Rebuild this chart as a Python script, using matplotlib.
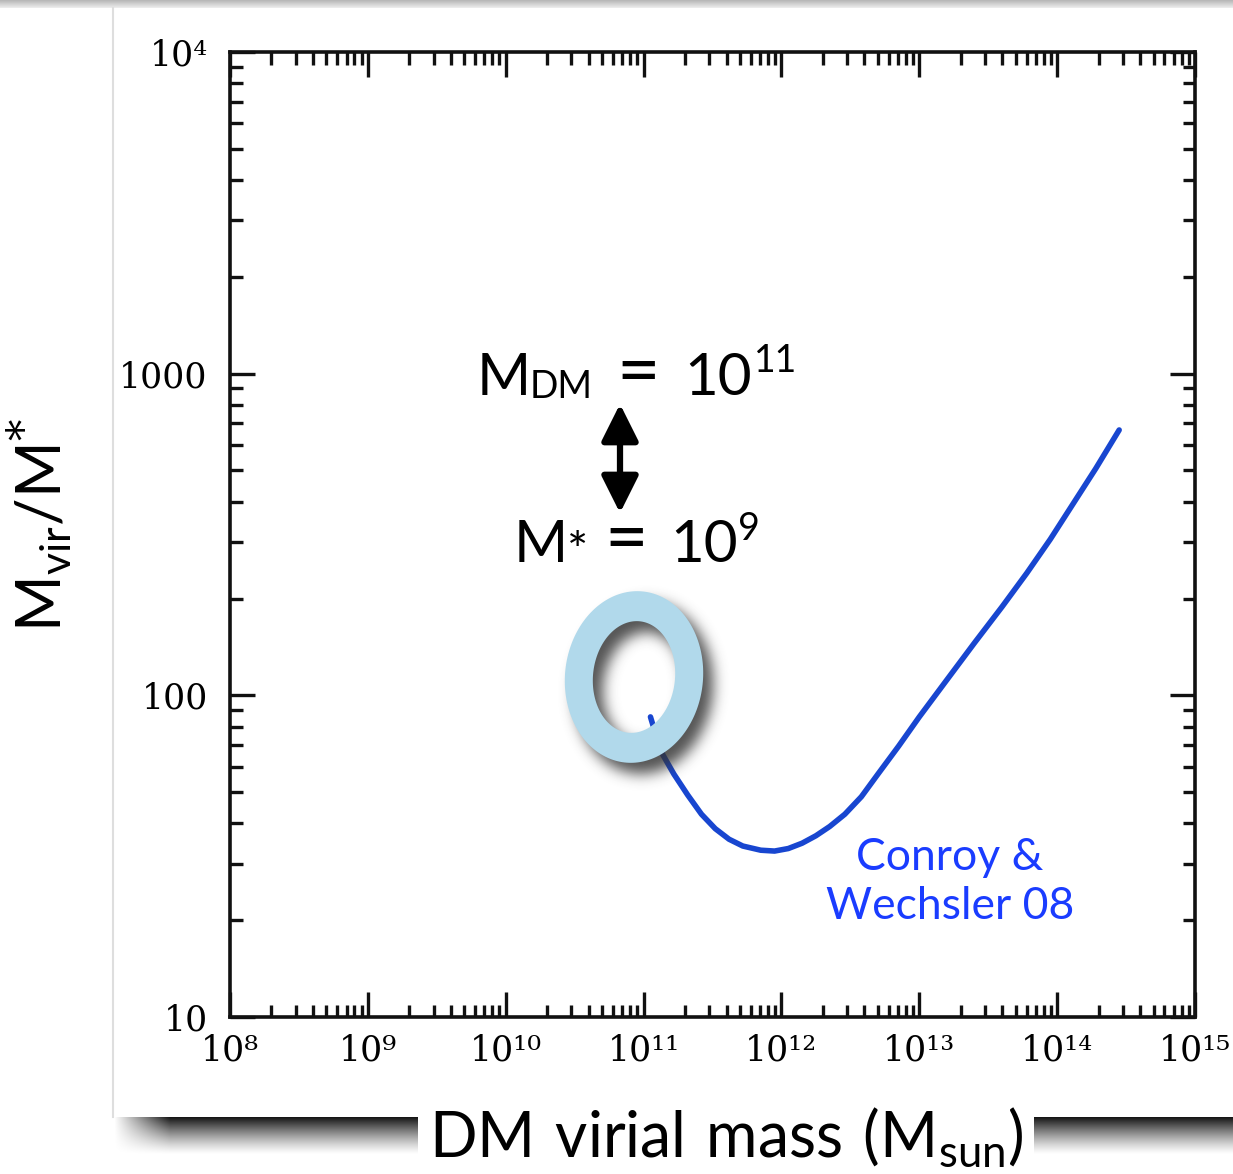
import numpy as np
import matplotlib.pyplot as plt
from matplotlib.patches import PathPatch, FancyArrowPatch
from matplotlib.path import Path
from matplotlib.ticker import FixedLocator, LogLocator, NullFormatter

plt.rcParams['mathtext.fontset'] = 'custom'
plt.rcParams['mathtext.rm'] = 'DejaVu Serif'
plt.rcParams['mathtext.sf'] = 'Lato'

# Conroy & Wechsler 08 curve
mvir_log = [11.05, 11.10, 11.14, 11.22, 11.32, 11.42, 11.52, 11.62, 11.72,
            11.85, 11.95, 12.05, 12.15, 12.25, 12.35, 12.46, 12.58, 12.70,
            12.85, 13.00, 13.20, 13.40, 13.60, 13.78, 13.95, 14.10, 14.28, 14.45]
mass_ratio = [85.7, 72.8, 65.3, 56.9, 49.0, 42.7, 38.5, 35.7, 34.0,
              33.0, 32.8, 33.4, 34.7, 36.6, 39.1, 42.7, 48.4, 56.9,
              69.5, 85.7, 111.7, 145.5, 188.4, 239.9, 305.5, 384.6, 507.0, 668.3]

sup = str.maketrans('0123456789', '⁰¹²³⁴⁵⁶⁷⁸⁹')
x_ticks = [1e8, 1e9, 1e10, 1e11, 1e12, 1e13, 1e14, 1e15]
x_labels = ['10' + str(p).translate(sup) for p in range(8, 16)]
y_ticks = [10, 100, 1000, 1e4]
y_labels = ['10', '100', '1000', '10' + '4'.translate(sup)]

W, H = 1233, 1174
fig = plt.figure(figsize=(W / 100, H / 100), dpi=100)

# slide background: panel with drop shadows (pixel coordinates)
bg = fig.add_axes([0, 0, 1, 1], zorder=0)
bg.set_xlim(0, W)
bg.set_ylim(H, 0)
bg.axis('off')
top = np.linspace(0.72, 0.92, 8)[:, None] * np.ones((1, 4))
bg.imshow(top, cmap='gray', vmin=0, vmax=1, extent=(0, W, 8, 0), aspect='auto')
bg.plot([113, 113], [8, 1117], color='#dedede', lw=1.5)

t = np.linspace(0, 1, 40)[:, None]
xs = np.linspace(0, 1, 400)[None, :]
alpha = 0.92 * (1 - t) ** 1.3 * np.clip(xs / 0.05, 0, 1)
shade = np.zeros((40, 400, 4))
shade[..., 3] = alpha
bg.imshow(shade, extent=(113, W, 1155, 1117), aspect='auto', interpolation='bilinear')

# main plot
ax = fig.add_axes([230 / W, 1 - 1017 / H, 965 / W, 965 / H], zorder=1)
ax.set_xscale('log')
ax.set_yscale('log')
ax.set_xlim(1e8, 1e15)
ax.set_ylim(10, 1e4)
ax.plot(10 ** np.array(mvir_log), mass_ratio, color='#1846d0', lw=4,
        solid_capstyle='round', solid_joinstyle='round')

ax.xaxis.set_major_locator(FixedLocator(x_ticks))
ax.set_xticklabels(x_labels, family='DejaVu Serif')
ax.yaxis.set_major_locator(FixedLocator(y_ticks))
ax.set_yticklabels(y_labels, family='DejaVu Serif')
for a in (ax.xaxis, ax.yaxis):
    a.set_minor_locator(LogLocator(base=10, subs=np.arange(2, 10), numticks=20))
    a.set_minor_formatter(NullFormatter())
ax.tick_params(which='both', direction='in', top=True, right=True, width=2.4,
               color='#111111')
ax.tick_params(which='major', length=18)
ax.tick_params(which='minor', length=9)
ax.tick_params(axis='x', which='major', pad=12, labelsize=25)
ax.tick_params(axis='y', which='major', pad=16, labelsize=25)
for s in ax.spines.values():
    s.set_linewidth(2.6)
    s.set_color('#111111')

# axis labels in the slide font
fig.text(40 / W, 1 - 525 / H, r'$\mathsf{M}_{\mathsf{vir}}\mathsf{/M}^{*}$',
         rotation=90, ha='center', va='center', fontsize=44)
fig.text(726 / W, 1 - 1138 / H, r'$\mathsf{DM\ virial\ mass\ (M}_{\mathsf{sun}}\mathsf{)}$',
         ha='center', va='center', fontsize=45, zorder=5,
         bbox=dict(facecolor='white', edgecolor='none', pad=8))

# overlay: ring, arrow and annotations
ov = fig.add_axes([0, 0, 1, 1], zorder=3)
ov.set_xlim(0, W)
ov.set_ylim(H, 0)
ov.axis('off')
ov.patch.set_alpha(0)


def ring_xy(cx, cy, a, b, phi, n=240):
    th = np.linspace(0, 2 * np.pi, n)
    c, s = np.cos(phi), np.sin(phi)
    return (cx + a * np.cos(th) * c - b * np.sin(th) * s,
            cy + a * np.cos(th) * s + b * np.sin(th) * c)


cx, cy, phi = 634, 677, np.radians(6)
ao, bo, ai, bi = 69, 86, 41, 56

# blurred shadow of the ring
x0, x1, y0, y1 = 530, 770, 570, 820
gy, gx = np.mgrid[y0:y1, x0:x1] + 0.5


def inside(px, py, a, b):
    c, s = np.cos(phi), np.sin(phi)
    u = (px * c + py * s) / a
    v = (-px * s + py * c) / b
    return u ** 2 + v ** 2 <= 1


dx, dy = gx - (cx + 10), gy - (cy + 11)
mask = (inside(dx, dy, ao, bo) & ~inside(dx, dy, ai, bi)).astype(float)
k = np.exp(-0.5 * (np.arange(-20, 21) / 7.0) ** 2)
k /= k.sum()
mask = np.apply_along_axis(lambda r: np.convolve(r, k, mode='same'), 0, mask)
mask = np.apply_along_axis(lambda r: np.convolve(r, k, mode='same'), 1, mask)
sh = np.zeros(mask.shape + (4,))
sh[..., :3] = 0.2
sh[..., 3] = 0.85 * mask
ov.imshow(sh, extent=(x0, x1, y1, y0), interpolation='bilinear', zorder=1)

oxy = ring_xy(cx, cy, ao, bo, phi)
ixy = ring_xy(cx, cy, ai, bi, phi)
verts = np.concatenate([np.column_stack(oxy), np.column_stack(ixy)[::-1]])
codes = np.full(len(verts), Path.LINETO)
codes[0] = Path.MOVETO
codes[len(oxy[0])] = Path.MOVETO
ov.add_patch(PathPatch(Path(verts, codes), facecolor='#b1d9eb', edgecolor='none',
                       zorder=2))

ov.add_patch(FancyArrowPatch((620, 404), (620, 513),
                             arrowstyle='<|-|>,head_length=0.9,head_width=0.45',
                             mutation_scale=25, lw=4.5, color='black',
                             shrinkA=0, shrinkB=0, zorder=3))

# annotation pieces: (text, left x, baseline y, size)
upper = [('M', 477, 395, 42), ('DM', 530, 398, 27), ('=', 616, 396, 54),
         ('10', 684, 395, 42), ('11', 754, 372, 27)]
lower = [('M', 514, 562, 42), ('*', 567, 568, 36), ('=', 604, 563, 54),
         ('10', 670, 562, 42), ('9', 738, 540, 27)]
for txt, px, py, size in upper + lower:
    ov.text(px, py, txt, ha='left', va='baseline', fontsize=size,
            family=['Lato', 'DejaVu Sans'], zorder=4)

ov.text(950, 882, 'Conroy &\nWechsler 08', ha='center', va='center',
        fontsize=32, family='Lato', color='#1a3cff', linespacing=1.22, zorder=4)

fig.savefig('out.png', dpi=100, facecolor='white')
